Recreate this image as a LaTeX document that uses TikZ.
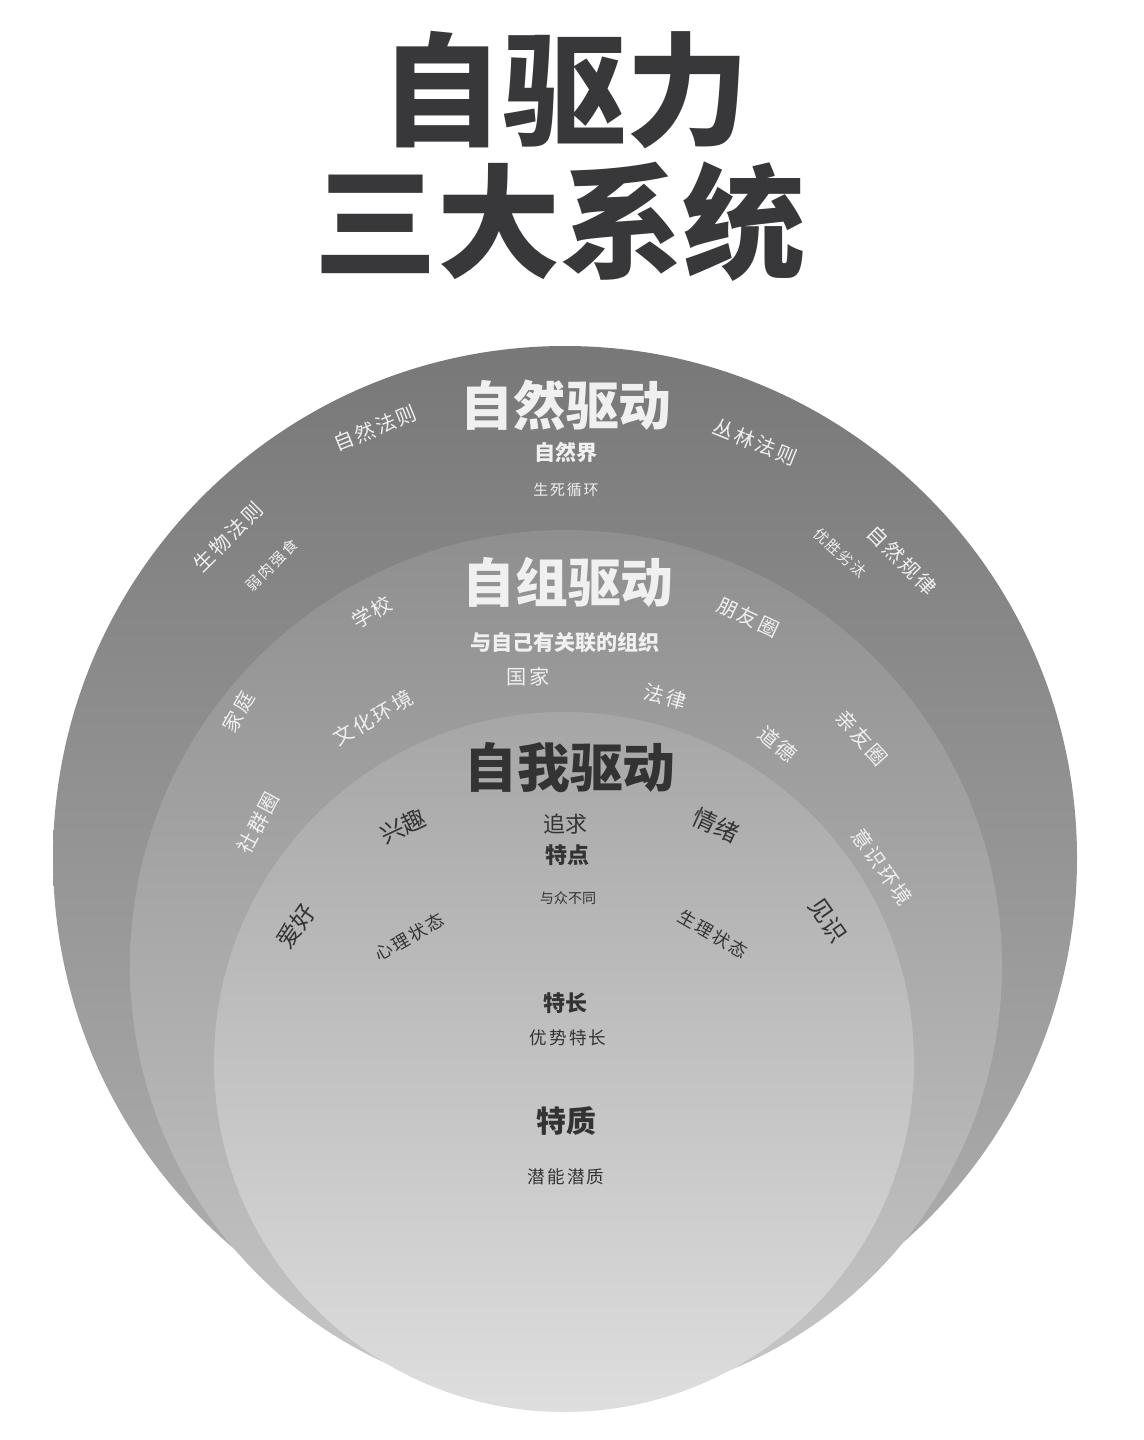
\documentclass[tikz,border=0pt]{standalone}
\usepackage{fontspec}
\usepackage{tikz}
\newfontfamily\cjk{Noto Sans CJK SC}
\newfontfamily\cjkwide{Noto Sans CJK SC}[LetterSpace=12]
\definecolor{titlegray}{HTML}{38373A}
\definecolor{labelwhite}{HTML}{F0F0F0}
\definecolor{labeldark}{HTML}{333333}

\begin{document}
\begin{tikzpicture}[x=0.02cm, y=-0.02cm]
    \tikzstyle{title text} = [text=titlegray, font=\cjk\bfseries\fontsize{70}{74}\selectfont, inner sep=0pt]
    \tikzstyle{system head} = [font=\cjk\bfseries\fontsize{30}{32}\selectfont, inner sep=0pt]
    \tikzstyle{light label} = [text=labelwhite, font=\cjkwide\fontsize{11.5}{13}\selectfont, inner sep=0pt]
    \tikzstyle{light small} = [light label, font=\cjkwide\fontsize{8.5}{10}\selectfont]
    \tikzstyle{light bold} = [light label, font=\cjk\bfseries\fontsize{12}{14}\selectfont]
    \tikzstyle{dark label} = [text=labeldark, font=\cjk\fontsize{13.5}{15}\selectfont, inner sep=0pt]
    \tikzstyle{dark small} = [dark label, font=\cjkwide\fontsize{10}{12}\selectfont]
    \tikzstyle{dark bold} = [dark label, font=\cjk\bfseries\fontsize{12.5}{14}\selectfont]
\useasboundingbox (0,0) rectangle (1143,1440);
% the three rings
\shade[top color=black!53, bottom color=black!30] (565,858) circle (512);
\shade[top color=black!44, bottom color=black!22] (566,966) circle (436);
\shade[top color=black!35, bottom color=black!13] (564,1062) circle (350);
% title
\node[title text] (t1) at (565,90) {自驱力};
\node[title text] (t2) at (560,222) {三大系统};
% outer ring
\node[system head, text=labelwhite] (nat) at (566,405) {自然驱动};
\node[light bold] (natw) at (566,452) {自然界};
\node[light small] (natc) at (566,490) {生死循环};
\node[light label, rotate=22] (law1) at (375,428) {自然法则};
\node[light label, rotate=-22] (law2) at (755,442) {丛林法则};
\node[light label, rotate=45] (law3) at (228,537) {生物法则};
\node[light small, rotate=45] (law4) at (272,565) {弱肉强食};
\node[light label, rotate=-45] (law5) at (902,560) {自然规律};
\node[light small, rotate=-42] (law6) at (840,553) {优胜劣汰};
% middle ring
\node[system head, text=labelwhite] (org) at (568,582) {自组驱动};
\node[light bold] (orgw) at (565,643) {与自己有关联的组织};
\node[light label] (nation) at (528,677) {国家};
\node[light label, rotate=30] (school) at (372,612) {学校};
\node[light label, rotate=-25] (friend) at (748,617) {朋友圈};
\node[light label, rotate=-15] (legal) at (665,697) {法律};
\node[light label, rotate=60] (home) at (238,712) {家庭};
\node[light label, rotate=30] (culture) at (373,718) {文化环境};
\node[light label, rotate=-40] (moral) at (778,744) {道德};
\node[light label, rotate=-48] (kin) at (862,738) {亲友圈};
\node[light label, rotate=62] (club) at (258,823) {社群圈};
\node[light label, rotate=-55] (mind) at (882,867) {意识环境};
% inner ring
\node[system head, text=labeldark] (self) at (570,768) {自我驱动};
\node[dark label, rotate=25] (fun) at (403,826) {兴趣};
\node[dark label, font=\cjk\fontsize{12.5}{14}\selectfont] (aim) at (565,824) {追求};
\node[dark bold] (trait) at (567,855) {特点};
\node[dark label, rotate=-25] (mood) at (716,825) {情绪};
\node[dark label, font=\cjk\fontsize{8}{10}\selectfont] (unique) at (568,898) {与众不同};
\node[dark label, rotate=55] (hobby) at (296,926) {爱好};
\node[dark small, rotate=30] (psy) at (409,937) {心理状态};
\node[dark small, rotate=-30] (body) at (713,934) {生理状态};
\node[dark label, rotate=-55] (vision) at (828,920) {见识};
\node[dark bold] (skill) at (565,1003) {特长};
\node[dark small] (skillw) at (568,1038) {优势特长};
\node[dark bold, font=\cjk\bfseries\fontsize{17}{19}\selectfont] (core) at (566,1121) {特质};
\node[dark small] (corew) at (566,1177) {潜能潜质};
\end{tikzpicture}
\end{document}
